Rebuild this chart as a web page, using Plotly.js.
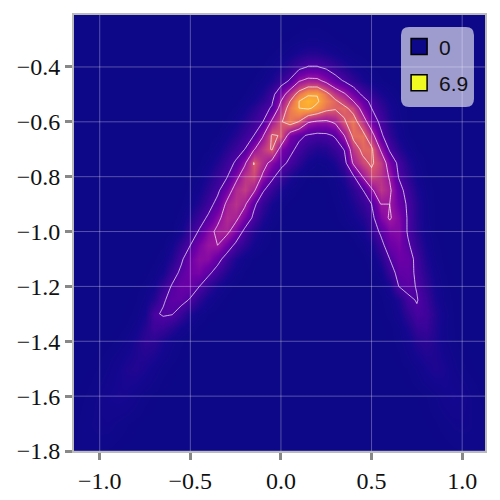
<!DOCTYPE html>
<html>
<head>
<meta charset="utf-8">
<script src="https://cdn.plot.ly/plotly-3.0.1.min.js"></script>
<style>body{margin:0;background:#fff}</style>
</head>
<body>
<div id="plot" style="width:500px;height:500px"></div>
<script>
// density, columns are gridX and rows are gridY
var gridX = [-1.15,-1.1,-1.05,-1,-0.95,-0.9,-0.85,-0.8,-0.75,-0.7,-0.65,-0.6,-0.55,-0.5,-0.45,-0.4,-0.35,-0.3,-0.25,-0.2,-0.15,-0.1,-0.05,0,0.05,0.1,0.15,0.2,0.25,0.3,0.35,0.4,0.45,0.5,0.55,0.6,0.65,0.7,0.75,0.8,0.85,0.9,0.95,1,1.05,1.1,1.15];
var gridY = [-1.8,-1.7,-1.6,-1.5,-1.4,-1.35,-1.3,-1.25,-1.2,-1.15,-1.1,-1.05,-1,-0.95,-0.9,-0.85,-0.8,-0.75,-0.7,-0.65,-0.6,-0.55,-0.525,-0.5,-0.45,-0.4,-0.35,-0.3,-0.25,-0.2];
var density = [
[.05,.1,.1,.08,.05,.02,0,0,0,0, 0,0,0,0,0,0,0,0,0,0, 0,0,0,0,0,0,0,0,0,0, 0,0,0,0,0,0,0,0,0,0, 0,.02,.04,.07,.1,.09,.06],
[.04,.09,.15,.2,.2,.13,.07,.03,0,0, 0,0,0,0,0,0,0,0,0,0, 0,0,0,0,0,0,0,0,0,0, 0,0,0,0,0,0,0,0,0,.02, .05,.1,.17,.2,.16,.09,.04],
[0,.05,.1,.2,.33,.4,.35,.22,.1,.04, 0,0,0,0,0,0,0,0,0,0, 0,0,0,0,0,0,0,0,0,0, 0,0,0,0,0,0,0,0,.02,.06, .15,.28,.35,.28,.15,.06,.02],
[0,0,.03,.08,.18,.33,.5,.55,.42,.25, .1,.04,0,0,0,0,0,0,0,0, 0,0,0,0,0,0,0,0,0,0, 0,0,0,0,0,0,.02,.07,.18,.36, .5,.42,.22,.09,.03,0,0],
[0,0,0,0,.03,.08,.2,.45,.75,.7, .42,.2,.08,.03,0,0,0,0,0,0, 0,0,0,0,0,0,0,0,0,0, 0,0,0,0,0,.03,.1,.28,.58,.7, .5,.22,.08,.02,0,0,0],
[0,0,0,0,0,.02,.08,.25,.6,1.05, .95,.65,.32,.13,.04,0,0,0,0,0, 0,0,0,0,0,0,0,0,0,0, 0,0,0,0,.01,.04,.15,.45,.9,.95, .55,.2,.07,.01,0,0,0],
[0,0,0,0,0,0,.03,.1,.35,1.25, 1.5,1.45,.95,.45,.18,.06,.02,0,0,0, 0,0,0,0,0,0,0,0,0,0, 0,0,0,0,.03,.1,.32,.8,1.25,1.1, .6,.22,.07,.02,0,0,0],
[0,0,0,0,0,0,.02,.06,.2,.6, 1.3,1.68,1.7,1.3,.7,.3,.1,.03,0,0, 0,0,0,0,0,0,0,0,0,0, 0,0,0,.02,.05,.15,.5,1.2,1.45,1, .45,.15,.05,.01,0,0,0],
[0,0,0,0,0,0,0,.03,.1,.3, .85,1.5,1.9,1.9,1.4,.8,.35,.12,.04,0, 0,0,0,0,0,0,0,0,0,0, 0,0,0,.03,.1,.4,1.4,1.65,1.35,.8, .35,.1,.03,0,0,0,0],
[0,0,0,0,0,0,0,0,.03,.12, .35,1,1.6,2.1,2.2,1.6,1,.5,.18,.05, 0,0,0,0,0,0,0,0,0,0, 0,0,.02,.07,.25,.95,1.7,1.8,1.2,.65, .25,.07,.02,0,0,0,0],
[0,0,0,0,0,0,0,0,0,.04, .15,.55,1.25,2,2.5,2.45,1.75,1,.45,.15, .04,0,0,0,0,0,0,0,0,0, 0,0,.03,.15,.6,1.4,2,1.9,1.1,.5, .15,.04,0,0,0,0,0],
[0,0,0,0,0,0,0,0,0,0, .05,.3,.8,1.4,2.2,2.75,2.8,2,1.2,.7, .3,.1,.03,0,0,0,0,0,0,0, 0,.03,.12,.4,1.05,1.95,2.2,1.55,.85,.35, .1,.02,0,0,0,0,0],
[0,0,0,0,0,0,0,0,0,0, 0,.04,.3,.9,1.5,2.4,3.05,3.1,2.2,1.15, .55,.2,.05,0,0,0,0,0,0,0, .03,.1,.3,.8,1.55,2.3,2.4,1.3,.65,.25, .06,.02,0,0,0,0,0],
[0,0,0,0,0,0,0,0,0,0, 0,.02,.12,.5,1,1.55,2.5,3.3,3.1,2.15, 1.2,.5,.15,.04,0,0,0,0,0,.04, .13,.3,.55,1.05,2.3,2.9,2.35,1.3,.6,.2, .05,0,0,0,0,0,0],
[0,0,0,0,0,0,0,0,0,0, 0,0,.05,.2,.55,1.05,1.7,3,3.5,3, 1.6,.85,.35,.1,.03,0,0,0,.02,.07, .2,.45,.85,1.4,2.8,2.8,2,1.25,.6,.2, .05,0,0,0,0,0,0],
[0,0,0,0,0,0,0,0,0,0, 0,0,0,.1,.3,.7,1.2,2.1,3.3,3.7, 3,1.5,.9,.4,.15,.05,0,0,.03,.1, .3,.7,1.3,2.6,3.6,3,1.75,1.05,.45,.15, .04,0,0,0,0,0,0],
[0,0,0,0,0,0,0,0,0,0, 0,0,0,.04,.15,.45,.9,1.3,2.4,3.55, 3.9,2.6,1.6,.95,.45,.15,.05,.03,.06,.18, .5,1.25,2.8,3.9,3.5,2.7,1.35,.75,.3,.08, .02,0,0,0,0,0,0],
[0,0,0,0,0,0,0,0,0,0, 0,0,0,0,.05,.2,.55,1,1.5,2.6, 4.25,3.3,2.4,1.7,1.2,.7,.3,.15,.2,.45, 1,3,3.9,4.35,3.7,2.2,1.15,.55,.2,.05, 0,0,0,0,0,0,0],
[0,0,0,0,0,0,0,0,0,0, 0,0,0,0,0,.06,.25,.6,1,1.4, 2.7,3.6,4.3,2.3,1.65,1.15,.75,.55,.6,.95, 1.45,3.6,4.45,4.4,2.7,1.25,.6,.22,.06,0, 0,0,0,0,0,0,0],
[0,0,0,0,0,0,0,0,0,0, 0,0,0,0,0,0,.08,.3,.6,1, 1.4,2.7,4.3,4.15,2.2,1.6,1.3,1.15,1.2,1.5, 2.8,4.5,4.6,3.3,1.6,.8,.3,.08,0,0, 0,0,0,0,0,0,0],
[0,0,0,0,0,0,0,0,0,0, 0,0,0,0,0,0,0,.1,.3,.6, 1,1.4,3,4.1,4.75,4.15,2.9,2.65,2.6,3, 4.1,4.7,3.5,2,1.2,.55,.2,.05,0,0, 0,0,0,0,0,0,0],
[0,0,0,0,0,0,0,0,0,0, 0,0,0,0,0,0,0,0,.1,.3, .6,1.05,1.5,3.3,4.7,5.6,5.8,5.3,4.6,4.35, 4.45,3.8,2.3,1.4,.85,.4,.15,.04,0,0, 0,0,0,0,0,0,0],
[0,0,0,0,0,0,0,0,0,0, 0,0,0,0,0,0,0,0,0,.15, .35,.7,1.25,2.8,4.2,5.6,6,5.75,4.9,4.4, 3.7,2.8,1.85,1.15,.65,.3,.1,.03,0,0, 0,0,0,0,0,0,0],
[0,0,0,0,0,0,0,0,0,0, 0,0,0,0,0,0,0,0,0,.07, .2,.5,1.05,2.2,3.5,4.7,5.5,5.55,4.6,3.6, 2.95,2.1,1.25,.75,.4,.18,.06,0,0,0, 0,0,0,0,0,0,0],
[0,0,0,0,0,0,0,0,0,0, 0,0,0,0,0,0,0,0,0,0, .08,.2,.45,.9,1.5,2.7,3.1,3.05,2.5,1.8, 1.3,.8,.42,.2,.08,.02,0,0,0,0, 0,0,0,0,0,0,0],
[0,0,0,0,0,0,0,0,0,0, 0,0,0,0,0,0,0,0,0,0, 0,.07,.18,.38,.7,1.1,1.45,1.45,1.2,.85, .55,.3,.15,.06,.02,0,0,0,0,0, 0,0,0,0,0,0,0],
[0,0,0,0,0,0,0,0,0,0, 0,0,0,0,0,0,0,0,0,0, 0,0,.06,.12,.25,.42,.55,.55,.42,.28, .15,.07,.03,0,0,0,0,0,0,0, 0,0,0,0,0,0,0],
[0,0,0,0,0,0,0,0,0,0, 0,0,0,0,0,0,0,0,0,0, 0,0,0,.03,.07,.12,.17,.17,.12,.07, .03,0,0,0,0,0,0,0,0,0, 0,0,0,0,0,0,0],
[0,0,0,0,0,0,0,0,0,0, 0,0,0,0,0,0,0,0,0,0, 0,0,0,0,0,.03,.05,.05,.03,0, 0,0,0,0,0,0,0,0,0,0, 0,0,0,0,0,0,0],
[0,0,0,0,0,0,0,0,0,0, 0,0,0,0,0,0,0,0,0,0, 0,0,0,0,0,0,0,0,0,0, 0,0,0,0,0,0,0,0,0,0, 0,0,0,0,0,0,0]
];

var xTicks = [-1, -0.5, 0, 0.5, 1];
var yTicks = [-1.8, -1.6, -1.4, -1.2, -1, -0.8, -0.6, -0.4];
var legendNames = ["0", "6.9"];

// plasma, stretched so the low end stays dark like the picture
var plasma = [
    [0, "#0d0887"], [0.05, "#150790"], [0.1, "#2a0593"], [0.2, "#4e02a2"], [0.3, "#7000a8"], [0.4, "#9814a0"],
    [0.5, "#b5308b"], [0.6, "#d6556d"], [0.7, "#ee7f4f"], [0.8, "#f89f3a"], [0.87, "#fdb42f"], [1, "#f0f921"]
];

var heat = {
    type: "heatmap",
    x: gridX,
    y: gridY,
    z: density,
    zmin: 0,
    zmax: 6.9,
    zsmooth: "best",
    colorscale: plasma,
    showscale: false,
    showlegend: false,
    hoverinfo: "skip"
};

var lines = {
    type: "contour",
    x: gridX,
    y: gridY,
    z: density,
    autocontour: false,
    contours: {coloring: "none", start: 1.4, end: 5.6, size: 1.4},
    line: {color: "rgba(255,255,255,0.7)", width: 1, smoothing: 0},
    showscale: false,
    showlegend: false,
    hoverinfo: "skip"
};

var low = {
    type: "scatter", mode: "markers", x: [null], y: [null], name: legendNames[0], legendgroup: "a",
    marker: {symbol: "square", size: 16, color: "#0d0887", line: {color: "#000", width: 1.5}}
};
var high = {
    type: "scatter", mode: "markers", x: [null], y: [null], name: legendNames[1], legendgroup: "b",
    marker: {symbol: "square", size: 16, color: "#f0f921", line: {color: "#000", width: 1.5}}
};

// grid goes on top of the heatmap, so shapes rather than axis grid
var shapes = [];
xTicks.forEach(function (v) {
    shapes.push({type: "line", xref: "x", yref: "paper", x0: v, x1: v, y0: 0, y1: 1, layer: "above",
        line: {color: "rgba(255,255,255,0.3)", width: 1}});
});
yTicks.forEach(function (v) {
    shapes.push({type: "line", xref: "paper", yref: "y", x0: 0, x1: 1, y0: v, y1: v, layer: "above",
        line: {color: "rgba(255,255,255,0.3)", width: 1}});
});
// rounded legend box
shapes.push({type: "path", xref: "paper", yref: "paper", layer: "above", fillcolor: "rgba(255,255,255,0.6)",
    line: {width: 0},
    path: "M .8151 .789 L .9537 .789 Q .9732 .789 .9732 .8073 L .9732 .9542 Q .9732 .9725 .9537 .9725 L .8151 .9725 Q .7956 .9725 .7956 .9542 L .7956 .8073 Q .7956 .789 .8151 .789 Z"});

var axisFont = {family: "Liberation Serif, serif", size: 24, color: "#111"};

var layout = {
    width: 500,
    height: 500,
    margin: {l: 74, r: 15, t: 15, b: 49},
    paper_bgcolor: "#fff",
    plot_bgcolor: "#0d0887",
    xaxis: {
        range: [-1.142, 1.126], tickvals: xTicks, ticktext: ["\u22121.0", "\u22120.5", "0.0", "0.5", "1.0"],
        ticks: "outside", ticklen: 7, tickwidth: 3, tickcolor: "#888",
        showgrid: false, zeroline: false, showline: true, linecolor: "#bbb", linewidth: 2, mirror: true,
        tickfont: axisFont
    },
    yaxis: {
        range: [-1.8, -0.2106], tickvals: yTicks,
        ticktext: ["\u22121.8", "\u22121.6", "\u22121.4", "\u22121.2", "\u22121.0", "\u22120.8", "\u22120.6", "\u22120.4"],
        ticks: "outside", ticklen: 7, tickwidth: 3, tickcolor: "#888",
        showgrid: false, zeroline: false, showline: true, linecolor: "#bbb", linewidth: 2, mirror: true,
        tickfont: axisFont
    },
    shapes: shapes,
    showlegend: true,
    legend: {
        x: 0.791, y: 0.974, xanchor: "left", yanchor: "top",
        bgcolor: "rgba(0,0,0,0)", borderwidth: 0, tracegroupgap: 6,
        font: {family: "Liberation Sans, sans-serif", size: 21, color: "#111"}
    }
};

Plotly.newPlot("plot", [heat, lines, low, high], layout, {displayModeBar: false, staticPlot: true});
</script>
</body>
</html>
